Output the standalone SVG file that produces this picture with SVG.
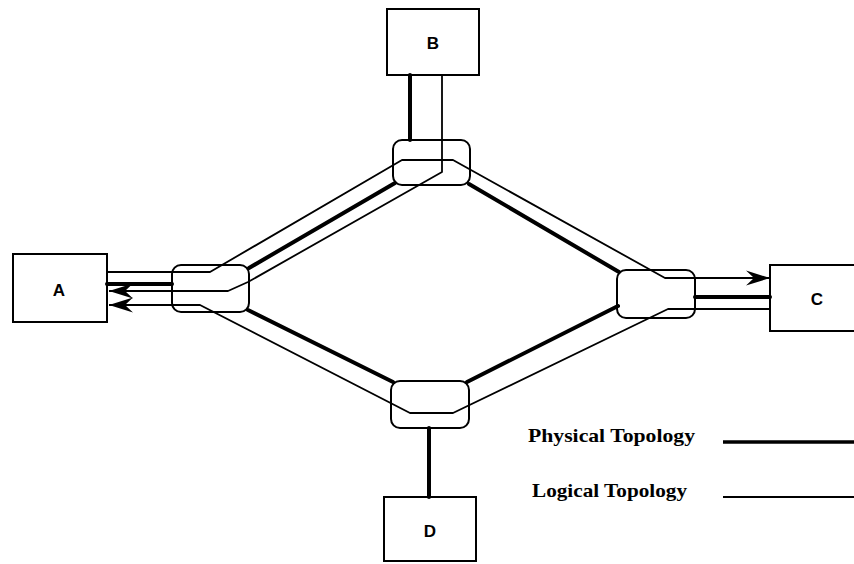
<svg xmlns="http://www.w3.org/2000/svg" width="854" height="564" viewBox="0 0 854 564">
  <style>
    .box { fill: #fff; stroke: #000; stroke-width: 2; }
    .sw { fill: none; stroke: #000; stroke-width: 2; }
    .phys { fill: none; stroke: #000; stroke-width: 4; stroke-linecap: round; }
    .logi { fill: none; stroke: #000; stroke-width: 1.8; stroke-linejoin: round; }
    .lbl { font-family: "Liberation Sans", Arial, sans-serif; font-size: 17px; font-weight: bold; text-anchor: middle; }
    .leg { font-family: "Liberation Serif", "Times New Roman", serif; font-size: 19px; font-weight: bold; }
  </style>
  <defs>
    <marker id="barb" viewBox="-26 -9 28 18" markerWidth="28" markerHeight="18" refX="0" refY="0" orient="auto" markerUnits="userSpaceOnUse">
      <path d="M0,0 L-24,-7.5 L-16,0 L-24,7.5 Z" fill="#000"/>
    </marker>
  </defs>

  <rect width="854" height="564" fill="#fff"/>

  <!-- end stations -->
  <g id="node-a">
    <rect class="box" x="13" y="254" width="94" height="68"/>
    <text class="lbl" x="59" y="296">A</text>
  </g>
  <g id="node-b">
    <rect class="box" x="387" y="9" width="92" height="66"/>
    <text class="lbl" x="433" y="49">B</text>
  </g>
  <g id="node-c">
    <rect class="box" x="770" y="265" width="100" height="66"/>
    <text class="lbl" x="817" y="305">C</text>
  </g>
  <g id="node-d">
    <rect class="box" x="384" y="497" width="92" height="64"/>
    <text class="lbl" x="430" y="537">D</text>
  </g>

  <!-- switches -->
  <g id="switch-left"><rect class="sw" x="172" y="265" width="77" height="47" rx="9"/></g>
  <g id="switch-top"><rect class="sw" x="393" y="140" width="77" height="45" rx="9"/></g>
  <g id="switch-right"><rect class="sw" x="617" y="270" width="78" height="48" rx="9"/></g>
  <g id="switch-bottom"><rect class="sw" x="391" y="381" width="78" height="47" rx="9"/></g>

  <g id="connectors">
    <!-- physical links -->
    <line class="phys" x1="107" y1="284" x2="172" y2="284"/>
    <line class="phys" x1="249" y1="268" x2="395" y2="183"/>
    <line class="phys" x1="410" y1="75" x2="410" y2="140"/>
    <line class="phys" x1="469" y1="184" x2="619" y2="272"/>
    <line class="phys" x1="248" y1="310" x2="393" y2="382"/>
    <line class="phys" x1="467" y1="382" x2="618" y2="306"/>
    <line class="phys" x1="429" y1="428" x2="429" y2="497"/>
    <line class="phys" x1="695" y1="297" x2="770" y2="297"/>

    <!-- logical paths -->
    <polyline class="logi" points="107,272 210,272 402,160 453,160 665,278 770,278" marker-end="url(#barb)"/>
    <polyline class="logi" points="442,75 442,172 248,282 228,291 109,291" marker-end="url(#barb)"/>
    <polyline class="logi" points="770,309 668,309 453,413 410,413 200,305 109,305" marker-end="url(#barb)"/>
  </g>

  <!-- legend -->
  <g id="legend">
    <text class="leg" x="528" y="442" textLength="167" lengthAdjust="spacingAndGlyphs">Physical Topology</text>
    <line x1="723" y1="442" x2="854" y2="442" stroke="#000" stroke-width="3.5"/>
    <text class="leg" x="532" y="497" textLength="155" lengthAdjust="spacingAndGlyphs">Logical Topology</text>
    <line x1="723" y1="497" x2="854" y2="497" stroke="#000" stroke-width="1.8"/>
  </g>
</svg>
